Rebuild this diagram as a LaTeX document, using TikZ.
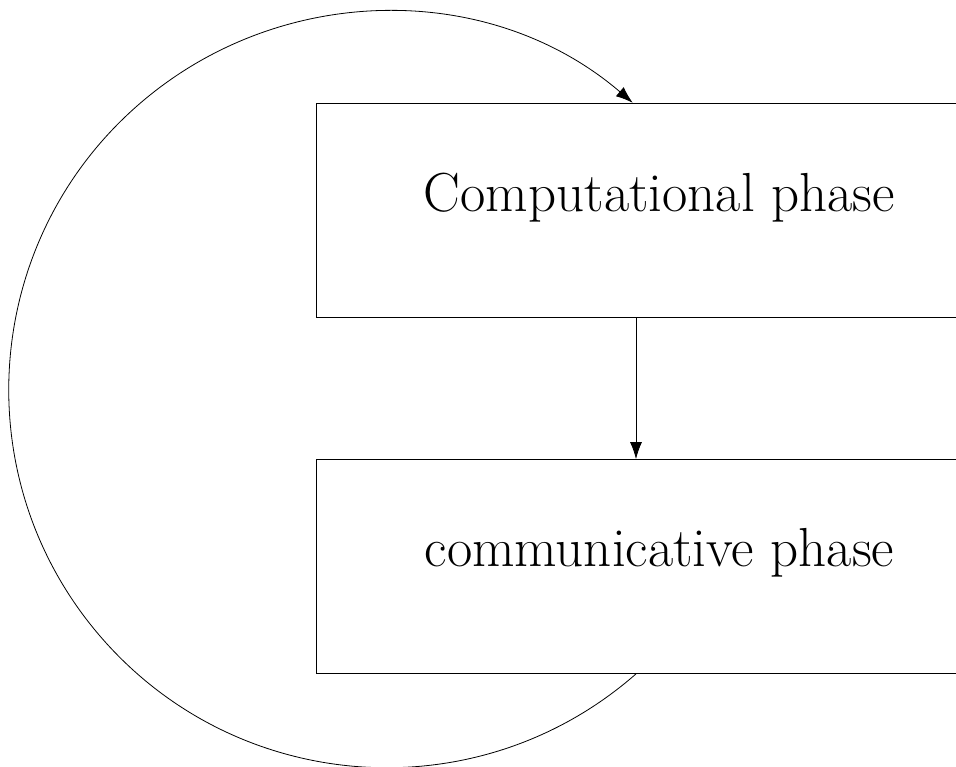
\documentclass[tikz,border=0pt]{standalone}
\usetikzlibrary{arrows.meta}
\begin{document}
\begin{tikzpicture}[x=1pt,y=1pt,
  phasebox/.style={draw, line width=0.8pt, minimum width=686pt, minimum height=214pt, inner sep=0pt},
  phaselabel/.style={anchor=base, font=\fontsize{55}{66}\selectfont},
  flow/.style={line width=0.8pt, -{Latex[length=17pt,width=12pt]}}]
\useasboundingbox (0,0) rectangle (956,767);
\clip (0,0) rectangle (956,767);
% the two phases
\node[phasebox] (comp) at (659.5,557) {};
\node[phasebox] (comm) at (659.5,200.5) {};
\node[phaselabel] (comptext) at ([yshift=-2pt]comp.center) {Computational phase};
\node[phaselabel] (commtext) at ([yshift=-0.5pt]comm.center) {communicative phase};
% computation feeds communication
\draw[flow] ([xshift=-23.5pt]comp.south) -- ([xshift=-23.5pt]comm.north);
% communication loops back round to computation
\draw[flow] ([xshift=-23.5pt]comm.south) arc[start angle=-48.74, end angle=-310.6, radius=378];
\end{tikzpicture}
\end{document}
